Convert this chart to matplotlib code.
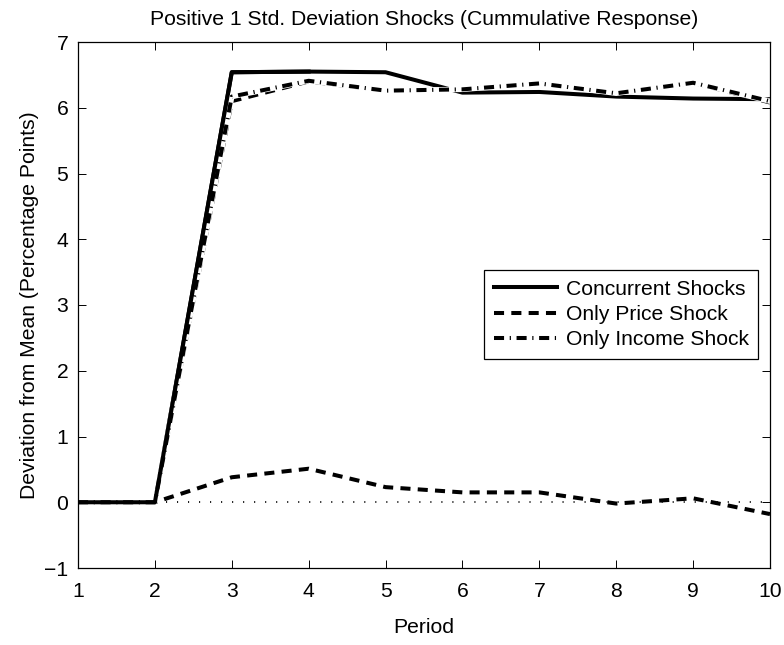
import matplotlib
matplotlib.use("Agg")
import matplotlib.pyplot as plt

periods = [1, 2, 3, 4, 5, 6, 7, 8, 9, 10]
concurrent = [0, 0, 6.54, 6.55, 6.54, 6.23, 6.24, 6.17, 6.14, 6.13]
price_top = [0, 0, 6.10, 6.40, 6.26, 6.28, 6.37, 6.22, 6.38, 6.08]
income_top = [0, 0, 6.17, 6.41, 6.26, 6.28, 6.37, 6.22, 6.38, 6.10]
price_low = [0, 0, 0.38, 0.51, 0.23, 0.15, 0.15, -0.02, 0.06, -0.18]

plt.rcParams['font.family'] = ['Liberation Sans', 'DejaVu Sans']
fs = 15.2
lw = 2.9

fig = plt.figure(figsize=(7.84, 6.45), dpi=100)
ax = fig.add_axes([78 / 784, 1 - 568 / 645, (770 - 78) / 784, (568 - 42) / 645])

dashed = (0, (2.5, 1.8))
dashdot = (0, (2.5, 1.4, 0.3, 1.4))

ax.plot(periods[1:], [0] * 9, color='black', linestyle=(0, (0.6, 5.5)), linewidth=1.3)
ax.plot(periods, concurrent, color='black', linewidth=lw, label='Concurrent Shocks')
ax.plot(periods, price_top, color='black', linewidth=lw, linestyle=dashed,
        dash_capstyle='butt', label='Only Price Shock')
ax.plot(periods, income_top, color='white', linewidth=lw + 1.0, zorder=2.5)
ax.plot(periods, income_top, color='black', linewidth=lw, linestyle=dashdot,
        dash_capstyle='butt', label='Only Income Shock', zorder=2.6)
ax.plot(periods, price_low, color='black', linewidth=lw, linestyle=dashed,
        dash_capstyle='butt')
# redraw the rise of the solid line over the white mask
ax.plot(periods[:4], concurrent[:4], color='black', linewidth=lw, zorder=2.7)

ax.set_xlim(1, 10)
ax.set_ylim(-1, 7)
ax.set_xticks(periods)
ax.set_yticks(range(-1, 8))
ax.set_yticklabels(['\u22121'] + [str(v) for v in range(0, 8)])
ax.tick_params(direction='in', top=True, right=True, labelsize=fs, length=6, width=0.7)
ax.tick_params(axis='x', pad=10)
ax.tick_params(axis='y', pad=7)
for s in ax.spines.values():
    s.set_linewidth(0.9)

ax.set_xlabel('Period', fontsize=fs, labelpad=12)
ax.set_ylabel('Deviation from Mean (Percentage Points)', fontsize=fs, labelpad=4)
ax.set_title('Positive 1 Std. Deviation Shocks (Cummulative Response)', fontsize=fs, pad=12)

leg = ax.legend(loc='center right', bbox_to_anchor=(0.983, 0.482), fontsize=fs,
                fancybox=False, framealpha=1, edgecolor='black', handlelength=3.0,
                borderpad=0.45, labelspacing=0.3, handletextpad=0.4, borderaxespad=0)
leg.get_frame().set_linewidth(0.9)

fig.savefig('out.png', dpi=100)
